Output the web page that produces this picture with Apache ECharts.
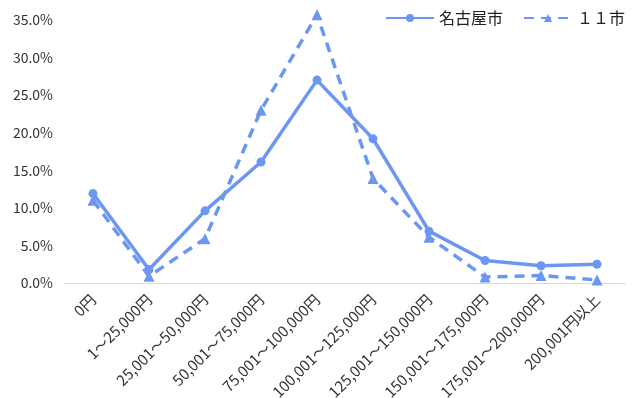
<!DOCTYPE html>
<html><head><meta charset="utf-8">
<script src="https://cdn.jsdelivr.net/npm/echarts@6/dist/echarts.min.js"></script>
<style>html,body{margin:0;padding:0;background:#fff}#c{width:632px;height:398px}</style>
</head><body><div id="c"></div>
<script>
const categories = ['0円','1～25,000円','25,001～50,000円','50,001～75,000円','75,001～100,000円','100,001～125,000円','125,001～150,000円','150,001～175,000円','175,001～200,000円','200,001円以上'];
const nagoya = [11.9, 1.8, 9.6, 16.1, 27.0, 19.2, 6.9, 3.0, 2.3, 2.5];
const city11 = [11.0, 0.9, 5.9, 23.0, 35.7, 13.9, 6.1, 0.8, 1.0, 0.4];
const seriesNames = ['名古屋市', '１１市'];
const color = '#6b97f3';
const font = '"Noto Sans CJK JP", sans-serif';
const chart = echarts.init(document.getElementById('c'));
chart.setOption({
  animation: false,
  color: [color, color],
  legend: {
    top: 5, right: 2, itemGap: 20, itemWidth: 48, itemHeight: 10,
    textStyle: { fontFamily: font, fontSize: 16, color: '#222' },
    data: seriesNames
  },
  grid: { left: 65, right: 7, top: 20, bottom: 115, containLabel: false, outerBoundsMode: 'none' },
  xAxis: {
    type: 'category', data: categories, boundaryGap: true,
    axisLine: { lineStyle: { color: '#d9d9d9', width: 1 } },
    axisTick: { show: false },
    axisLabel: { rotate: 45, interval: 0, fontFamily: font, fontSize: 15, color: '#333', margin: 14 }
  },
  yAxis: {
    type: 'value', min: 0, max: 35, interval: 5,
    splitLine: { show: false },
    axisLine: { show: false }, axisTick: { show: false },
    axisLabel: { fontFamily: font, fontSize: 14, color: '#333', margin: 12, formatter: v => v.toFixed(1) + '%' }
  },
  series: [
    { name: seriesNames[0], type: 'line', data: nagoya, clip: false,
      symbol: 'circle', symbolSize: 9,
      lineStyle: { width: 3.5, color: color }, itemStyle: { color: color } },
    { name: seriesNames[1], type: 'line', data: city11, clip: false,
      symbol: 'triangle', symbolSize: 11,
      lineStyle: { width: 3.5, type: [10, 7], color: color }, itemStyle: { color: color } }
  ]
});
</script></body></html>
